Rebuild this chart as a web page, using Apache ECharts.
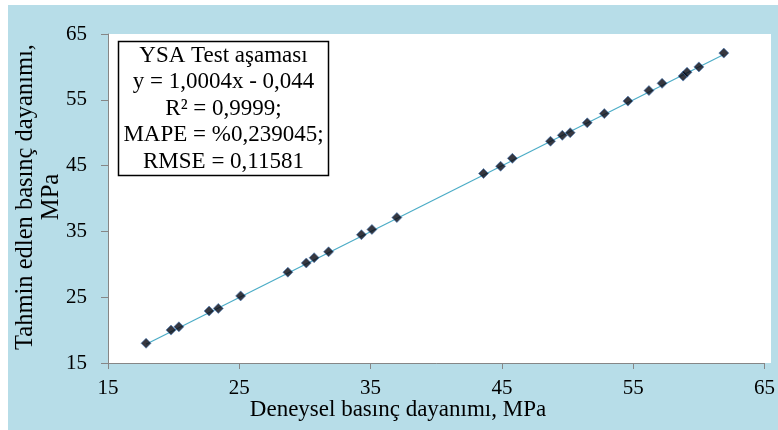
<!DOCTYPE html>
<html>
<head>
<meta charset="utf-8">
<script src="https://cdn.jsdelivr.net/npm/echarts@6/dist/echarts.min.js"></script>
<style>
html,body{margin:0;padding:0;background:#ffffff;}
#chart{width:778px;height:430px;}
</style>
</head>
<body>
<div id="chart"></div>
<script>
// Measured (Deneysel) vs predicted (Tahmin) values
const measured  = [17.9, 19.8, 20.4, 22.7, 23.4, 25.1, 28.7, 30.1, 30.7, 31.8, 34.3, 35.1, 37.0, 43.6, 44.9, 45.8, 48.7, 49.6, 50.2, 51.5, 52.8, 54.6, 56.2, 57.2, 58.8, 59.1, 60.0, 61.9];
const predicted = [18.0, 20.0, 20.5, 22.9, 23.3, 25.2, 28.8, 30.2, 31.0, 31.9, 34.5, 35.3, 37.1, 43.8, 44.9, 46.1, 48.7, 49.6, 50.0, 51.5, 52.9, 54.8, 56.4, 57.5, 58.6, 59.2, 60.0, 62.1];
// Trend line endpoints (y = 1,0004x - 0,044)
const trendX = [17.9, 61.9];
const trendY = [17.86, 61.88];
const tickValues = [15, 25, 35, 45, 55, 65];
const infoLines = ['YSA Test aşaması', 'y = 1,0004x - 0,044', 'R² = 0,9999;', 'MAPE = %0,239045;', 'RMSE = 0,11581'];

const pts = measured.map((x, i) => [x, predicted[i]]);
const trend = trendX.map((x, i) => [x, trendY[i]]);
const font = '"Liberation Serif", "Times New Roman", serif';

const chart = echarts.init(document.getElementById('chart'), null, {renderer: 'canvas'});
chart.setOption({
  animation: false,
  backgroundColor: '#ffffff',
  graphic: [
    {type: 'rect', z: -10, shape: {x: 8, y: 5, width: 770, height: 425}, style: {fill: '#b7dde8'}},
    {type: 'rect', z: -9, shape: {x: 108, y: 34, width: 663, height: 329}, style: {fill: '#ffffff'}},
    {type: 'rect', z: 50, shape: {x: 118.5, y: 41.5, width: 210, height: 134}, style: {fill: '#ffffff', stroke: '#000000', lineWidth: 1.5}},
    {type: 'text', z: 51, x: 0, y: 0, style: {
      x: 223.5, y: 108.5, text: infoLines.join('\n'), font: '23px ' + font, fill: '#000000',
      align: 'center', verticalAlign: 'middle', lineHeight: 26.5
    }},
    {type: 'text', z: 51, style: {
      x: 398, y: 410, text: 'Deneysel basınç dayanımı, MPa', font: '23px ' + font,
      fill: '#000000', align: 'center', verticalAlign: 'middle'
    }},
    {type: 'text', z: 51, x: 39, y: 197, rotation: Math.PI / 2, style: {
      x: 0, y: 0, text: 'Tahmin edlen basınç dayanımı,\nMPa', font: '24.5px ' + font,
      fill: '#000000', align: 'center', verticalAlign: 'middle', lineHeight: 26
    }}
  ],
  grid: {left: 108, right: 7, top: 34, bottom: 67, containLabel: false},
  xAxis: {
    type: 'value', min: 15, max: 65, interval: 10,
    axisLine: {show: true, lineStyle: {color: '#868686', width: 1}},
    axisTick: {show: true, inside: false, length: 6, lineStyle: {color: '#868686'}},
    splitLine: {show: false},
    axisLabel: {margin: 15, color: '#000000', fontFamily: font, fontSize: 21,
      customValues: tickValues, formatter: v => String(v)}
  },
  yAxis: {
    type: 'value', min: 15, max: 65, interval: 10,
    axisLine: {show: true, lineStyle: {color: '#868686', width: 1}},
    axisTick: {show: true, inside: false, length: 7, lineStyle: {color: '#868686'}},
    splitLine: {show: false},
    axisLabel: {margin: 21, color: '#000000', fontFamily: font, fontSize: 21,
      formatter: v => String(v)}
  },
  series: [
    {
      type: 'line', data: trend, symbol: 'none', z: 2,
      lineStyle: {color: '#4bacc6', width: 1.2}
    },
    {
      type: 'scatter', data: pts, symbol: 'diamond', symbolSize: 10, z: 3,
      itemStyle: {color: '#05050f', borderColor: '#4a7ebb', borderWidth: 0.8}
    }
  ]
});
</script>
</body>
</html>
